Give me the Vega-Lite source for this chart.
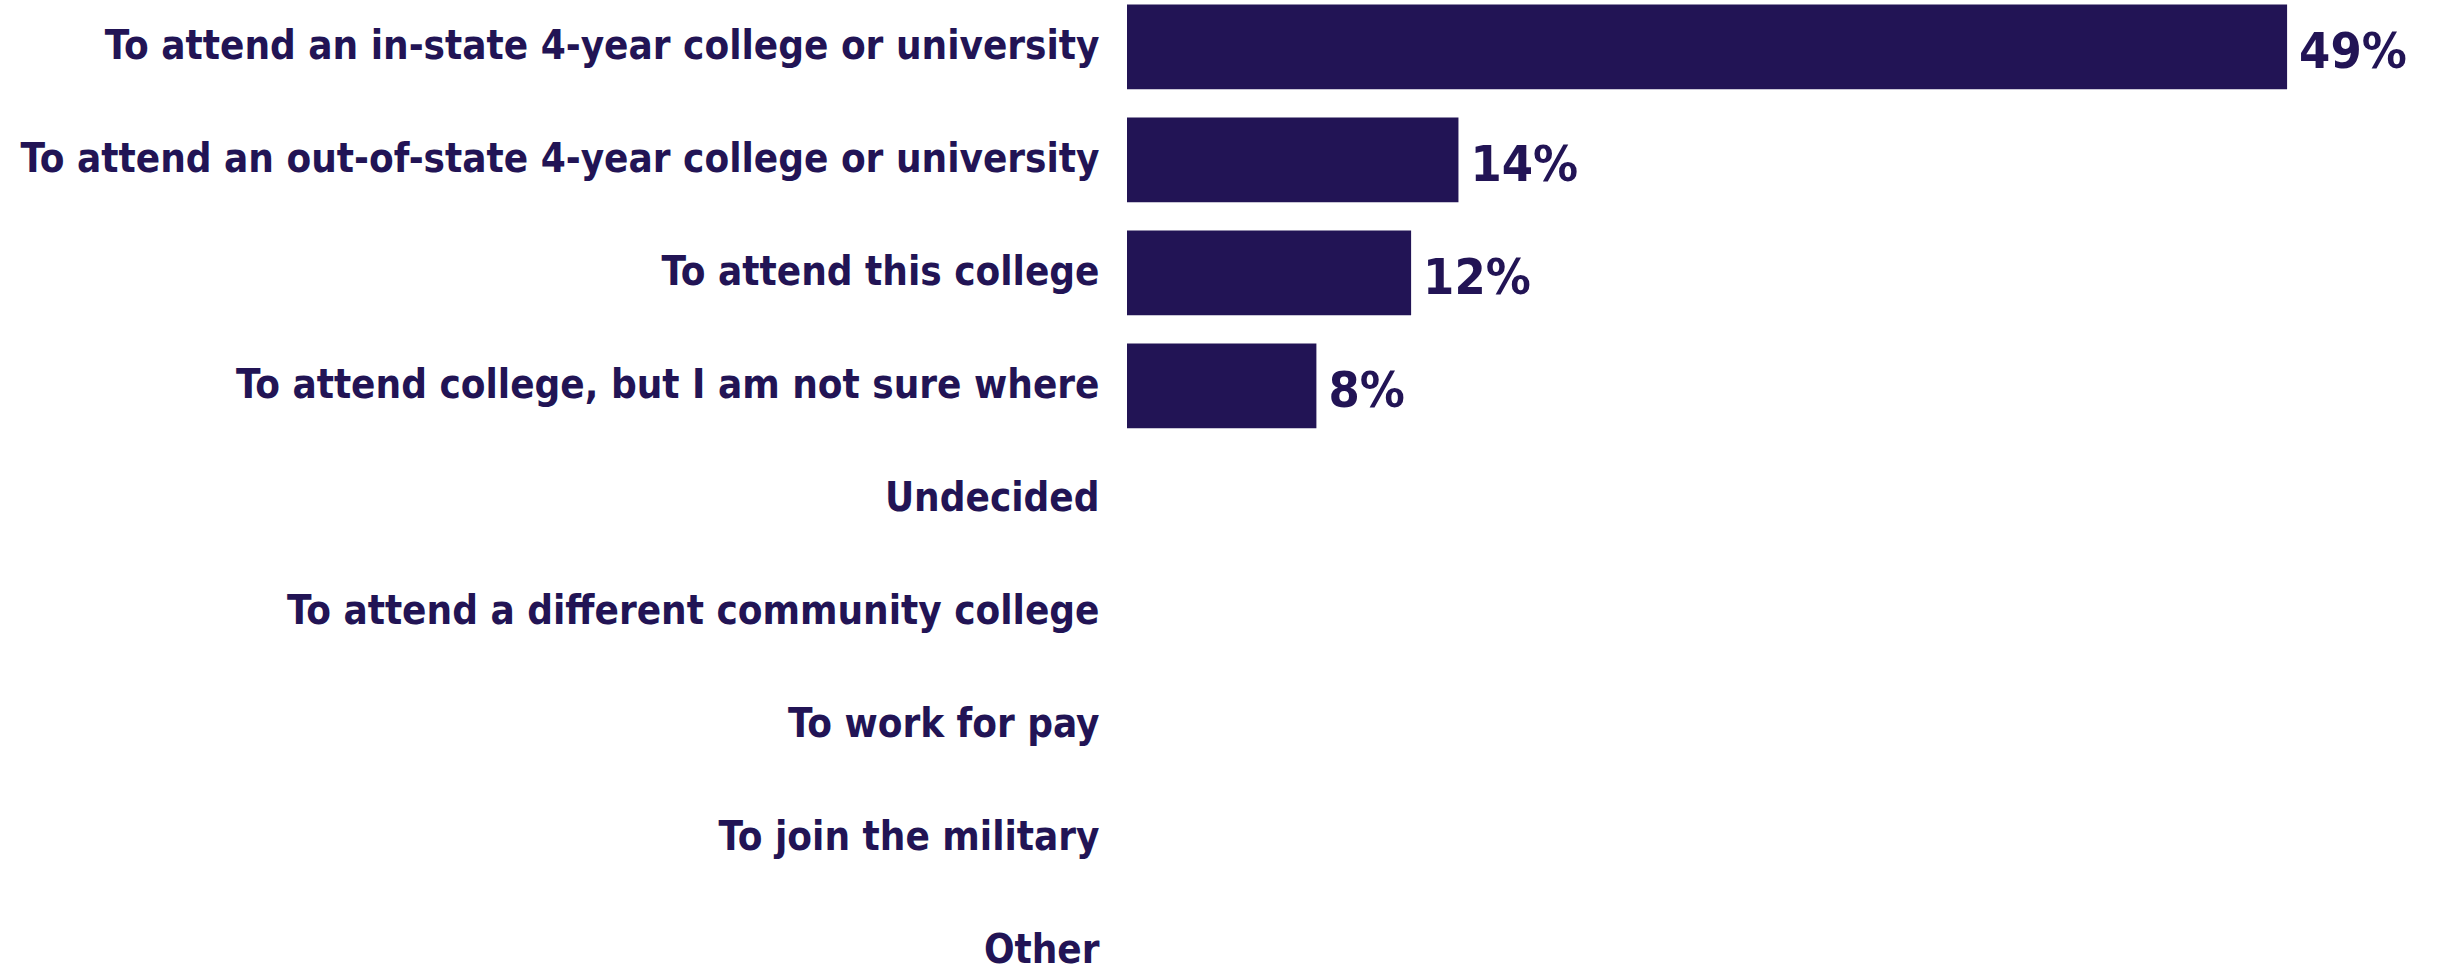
{
  "$schema": "https://vega.github.io/schema/vega-lite/v6.json",
  "autosize": {"type": "none"},
  "padding": {"left": 1127, "top": 0, "right": 0, "bottom": 0},
  "width": 1318,
  "height": 998,
  "background": "white",
  "config": {"view": {"stroke": null}},
  "data": {
    "values": [
      {"category": "To attend an in-state 4-year college or university", "share": 0.49},
      {"category": "To attend an out-of-state 4-year college or university", "share": 0.14},
      {"category": "To attend this college", "share": 0.12},
      {"category": "To attend college, but I am not sure where", "share": 0.08},
      {"category": "Undecided", "share": null},
      {"category": "To attend a different community college", "share": null},
      {"category": "To work for pay", "share": null},
      {"category": "To join the military", "share": null},
      {"category": "Other", "share": null}
    ]
  },
  "encoding": {
    "y": {
      "field": "category",
      "type": "nominal",
      "sort": null,
      "scale": {
        "domain": [
          "To attend an in-state 4-year college or university",
          "To attend an out-of-state 4-year college or university",
          "To attend this college",
          "To attend college, but I am not sure where",
          "Undecided",
          "To attend a different community college",
          "To work for pay",
          "To join the military",
          "Other"
        ],
        "paddingInner": 0.25,
        "paddingOuter": 0.04
      },
      "axis": {
        "title": null,
        "domain": false,
        "ticks": false,
        "grid": false,
        "labelPadding": 28,
        "labelLimit": 0,
        "labelFont": "DejaVu Sans Condensed",
        "labelFontWeight": "bold",
        "labelFontSize": 40,
        "labelColor": "#221455"
      }
    },
    "x": {
      "field": "share",
      "type": "quantitative",
      "scale": {"domain": [0, 0.5567], "nice": false, "zero": true},
      "axis": null
    }
  },
  "layer": [
    {
      "mark": {"type": "bar", "color": "#221455"}
    },
    {
      "mark": {
        "type": "text",
        "align": "left",
        "baseline": "middle",
        "dx": 12,
        "dy": 6,
        "font": "DejaVu Sans Condensed",
        "fontWeight": "bold",
        "fontSize": 50,
        "color": "#221455"
      },
      "encoding": {
        "text": {"field": "share", "type": "quantitative", "format": ".0%"}
      }
    }
  ]
}
